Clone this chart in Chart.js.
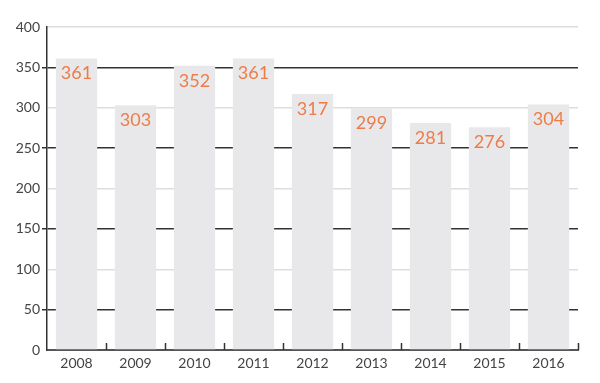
<!DOCTYPE html>
<html>
<head>
<meta charset="utf-8">
<script src="https://cdn.jsdelivr.net/npm/chart.js@4/dist/chart.umd.min.js"></script>
<style>
  html, body { margin: 0; padding: 0; background: #fff; }
  #wrap { width: 600px; height: 383px; }
</style>
</head>
<body>
<div id="wrap"><canvas id="bars"></canvas></div>
<script>
var years = ["2008", "2009", "2010", "2011", "2012", "2013", "2014", "2015", "2016"];
var counts = [361, 303, 352, 361, 317, 299, 281, 276, 304];
var yTicks = [0, 50, 100, 150, 200, 250, 300, 350, 400];

// orange value labels inside the top of each bar
var valueLabels = {
  id: "valueLabels",
  afterDatasetsDraw: function(chart) {
    var ctx = chart.ctx;
    var meta = chart.getDatasetMeta(0);
    ctx.save();
    ctx.fillStyle = "#ee7c48";
    ctx.font = "18px Lato";
    ctx.textAlign = "center";
    ctx.textBaseline = "middle";
    meta.data.forEach(function(bar, i) {
      ctx.fillText(counts[i], bar.x, bar.y + 15);
    });
    ctx.restore();
  }
};

// little upward ticks between categories on the x axis
var catTicks = {
  id: "catTicks",
  afterDatasetsDraw: function(chart) {
    var ctx = chart.ctx;
    var x = chart.scales.x;
    var bottom = chart.chartArea.bottom;
    var step = x.getPixelForValue(1) - x.getPixelForValue(0);
    ctx.save();
    ctx.strokeStyle = "#333";
    ctx.lineWidth = 1.5;
    for (var i = 0; i < years.length; i++) {
      var px = Math.round(x.getPixelForValue(i) + step / 2) + 0.5;
      ctx.beginPath();
      ctx.moveTo(px, bottom);
      ctx.lineTo(px, bottom - 7);
      ctx.stroke();
    }
    ctx.restore();
  }
};

new Chart("bars", {
  type: "bar",
  data: {
    labels: years,
    datasets: [{
      data: counts,
      backgroundColor: "#e8e8ea",
      borderWidth: 0,
      barPercentage: 0.7,
      categoryPercentage: 1
    }]
  },
  options: {
    responsive: true,
    maintainAspectRatio: false,
    animation: false,
    layout: { padding: { top: 27, right: 22, bottom: 10, left: 0 } },
    plugins: {
      legend: { display: false },
      tooltip: { enabled: false }
    },
    scales: {
      x: {
        grid: { display: false, drawTicks: false },
        border: { display: true, color: "#555", width: 2 },
        ticks: { color: "#444", font: { family: "Lato", size: 14 }, padding: 5 },
        afterFit: function(s) { s.height = 23; }
      },
      y: {
        min: 0,
        max: 400,
        afterBuildTicks: function(s) {
          s.ticks = yTicks.map(function(v) { return { value: v }; });
        },
        grid: {
          color: function(c) {
            var v = c.tick ? c.tick.value : 0;
            if (v === 0) return "rgba(0,0,0,0)";
            return (v / 50) % 2 === 1 ? "#333" : "#dddddd";
          },
          lineWidth: 1.5,
          tickColor: function(c) {
            var v = c.tick ? c.tick.value : 0;
            return (v / 50) % 2 === 1 ? "#333" : "rgba(0,0,0,0)";
          },
          tickLength: 5
        },
        border: { display: true, color: "#333", width: 1.5 },
        ticks: { color: "#444", font: { family: "Lato", size: 14 }, padding: 2 },
        afterFit: function(s) { s.width = 47; }
      }
    }
  },
  plugins: [valueLabels, catTicks]
});
</script>
</body>
</html>
